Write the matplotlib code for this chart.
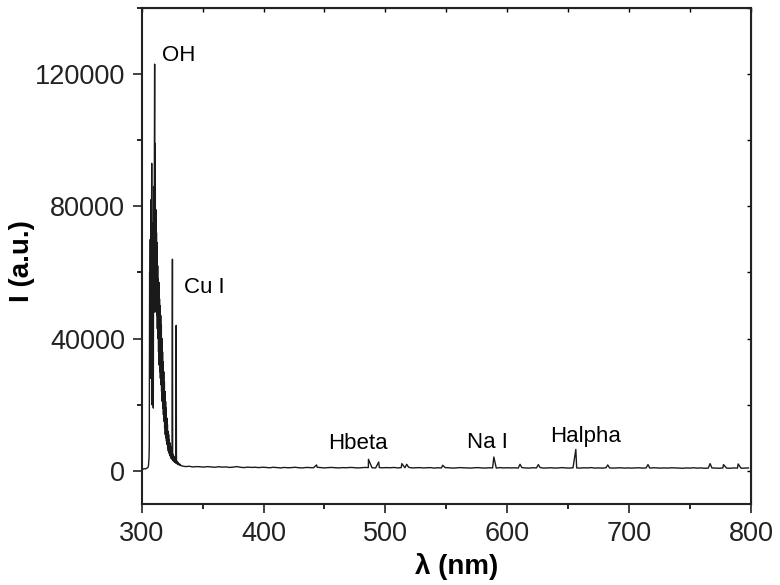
import numpy as np
import matplotlib
matplotlib.use("Agg")
import matplotlib.pyplot as plt
from matplotlib.ticker import MultipleLocator

plt.rcParams['font.family'] = ['Liberation Sans', 'DejaVu Sans']

# flat part before the OH band
wl_start = [300, 301, 302, 303, 304, 305, 305.5, 306.0]
I_start = [600, 500, 700, 600, 800, 1000, 1500, 4000]

# OH band + Cu I lines (306 - 332 nm), spikes and dips alternate
wl_oh = [306.2, 306.5, 306.7, 307.0, 307.2, 307.6, 307.8, 308.2, 308.4, 308.7,
         308.9, 309.2, 309.5, 309.8, 310.1, 310.6, 310.8, 311.1, 311.3, 311.6,
         311.8, 312.1, 312.3, 312.6, 312.8, 313.1, 313.3, 313.6, 313.8, 314.1,
         314.3, 314.6, 314.8, 315.1, 315.3, 315.6, 315.8, 316.1, 316.3, 316.6,
         316.8, 317.1, 317.3, 317.6, 317.8, 318.1, 318.3, 318.6, 318.8, 319.1,
         319.3, 319.6, 319.8, 320.1, 320.3, 320.6, 320.8, 321.1, 321.3, 321.6,
         321.8, 322.1, 322.3, 322.6, 322.8, 323.1, 323.3, 323.6, 323.8, 324.1,
         324.3, 324.6, 324.9, 325.2, 325.4, 325.7, 326.0, 326.3, 326.6, 326.9,
         327.2, 327.5, 327.8, 328.1, 328.3, 328.5, 328.8, 329.1, 329.5, 329.9,
         330.4, 331.0, 331.6, 332.2]
I_oh = [8000, 60000, 40000, 70000, 28000, 82000, 35000, 93000, 20000, 62000,
        45000, 75000, 19000, 86000, 55000, 123000, 48000, 99000, 52000, 79000,
        50000, 72000, 47000, 69000, 43000, 62000, 40000, 58000, 36000, 57000,
        32000, 52000, 30000, 50000, 28000, 47000, 26000, 44000, 24000, 40000,
        21000, 36000, 19000, 33000, 17000, 30000, 15000, 27000, 13000, 24000,
        11000, 21000, 10000, 19000, 9000, 16000, 8000, 14000, 7000, 12000,
        6000, 11000, 5500, 9500, 5000, 8500, 4500, 7500, 4000, 6500,
        3800, 6000, 3500, 64000, 3300, 5000, 3000, 4500, 2800, 4000,
        2600, 3600, 2400, 3300, 44000, 2300, 3000, 2100, 2700, 1900,
        2300, 1700, 2000, 1600]

# baseline, every 3 nm from 333 to 798 nm
I_base = [1500, 1300, 1400, 1200, 1300, 1250, 1150, 1300, 1200, 1100, 1250, 1150,
          1200, 1050, 1150, 1300, 1100, 1000, 1150, 1050, 1100, 1000, 1100,
          1050, 950, 1100, 1000, 900, 1050, 950, 1000, 1100, 950, 900, 1050, 1000,
          950, 1100, 1000, 900, 1000, 1050, 950, 900, 1000, 950, 1050, 1000, 900,
          950, 1050, 1000, 950, 900, 1000, 950,
          1000, 950, 1050, 900, 1000, 950, 1100, 900, 950, 1000, 900, 950, 1000,
          850, 950, 900, 1000, 950, 850, 900, 1000, 950, 900, 850, 950, 1000, 900,
          850, 950, 900, 850, 1000, 900, 950,
          900, 950, 850, 1000, 900, 850, 950, 900, 1000, 850, 900, 950, 850, 900,
          1000, 900, 850, 950, 900, 850, 950, 900, 1000, 850, 900, 850, 950, 900,
          850, 900, 950, 850, 900,
          850, 900, 950, 850, 900, 850, 950, 900, 850, 900, 850, 950, 900, 850,
          800, 900, 850, 950, 850, 900, 800, 850, 900, 850, 800, 900, 850, 800,
          900, 850, 800, 850, 900]
wl_base = list(range(333, 800, 3))[:len(I_base)]

# small atomic lines and noise spikes
wl_spk = [443.5, 486.1, 494.5, 513.5, 517.5, 547.0, 589.0, 610.5, 625.5,
          656.3, 682.5, 715.5, 766.5, 777.5, 789.5]
I_spk = [1800, 3500, 2700, 2200, 2000, 1700, 4200, 2000, 1900,
         6500, 1800, 1900, 2200, 1900, 2100]

wl = np.array(wl_start + wl_oh + wl_base + wl_spk, dtype=float)
I = np.array(I_start + I_oh + I_base + I_spk, dtype=float)
order = np.argsort(wl)
wl, I = wl[order], I[order]

fig = plt.figure(figsize=(7.8, 5.85), dpi=100)
ax = fig.add_axes([0.1817, 0.1385, 0.781, 0.848])
ax.plot(wl, I, color='#1a1a1a', lw=1.0)

ax.set_xlim(300, 800)
ax.set_ylim(-10000, 140000)
ax.xaxis.set_major_locator(MultipleLocator(100))
ax.xaxis.set_minor_locator(MultipleLocator(50))
ax.yaxis.set_major_locator(MultipleLocator(40000))
ax.yaxis.set_minor_locator(MultipleLocator(20000))
ax.tick_params(which='major', direction='out', length=6.5, width=1.2, pad=5.5,
               labelsize=19.5, colors='#222222')
ax.tick_params(which='minor', direction='out', length=3.5, width=1.2)
for s in ax.spines.values():
    s.set_linewidth(1.5)
    s.set_color('#222222')

top = ax.secondary_xaxis('top')
top.xaxis.set_major_locator(MultipleLocator(50))
top.tick_params(direction='in', length=3, width=1, labeltop=False)
right = ax.secondary_yaxis('right')
right.yaxis.set_major_locator(MultipleLocator(20000))
right.tick_params(direction='in', length=3, width=1, labelright=False)

ax.set_xlabel('λ (nm)', fontsize=20, fontweight='bold')
ax.set_ylabel('I (a.u.)', fontsize=20, fontweight='bold')
ax.xaxis.set_label_coords(0.517, -0.099)
ax.yaxis.set_label_coords(-0.175, 0.49)

ax.text(316.3, 124000, 'OH', fontsize=16)
ax.text(334.3, 53800, 'Cu I', fontsize=16)
ax.text(452.8, 6650, 'Hbeta', fontsize=16)
ax.text(567, 7000, 'Na I', fontsize=16)
ax.text(635, 8770, 'Halpha', fontsize=16)

fig.savefig('out.png', dpi=100)
